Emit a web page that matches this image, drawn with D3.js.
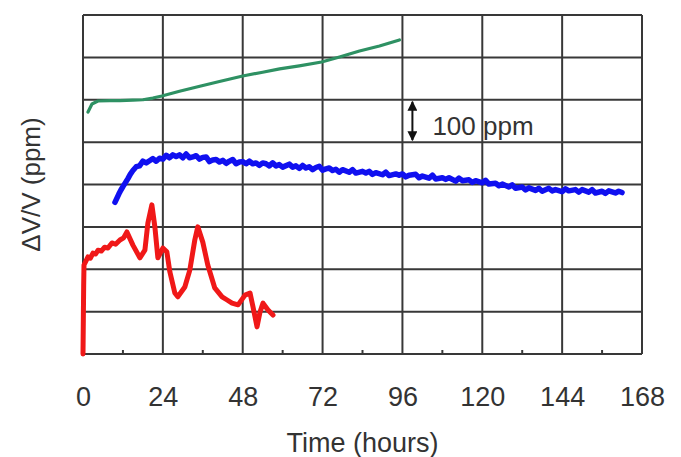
<!DOCTYPE html>
<html>
<head>
<meta charset="utf-8">
<script src="https://cdn.jsdelivr.net/npm/d3@7"></script>
<style>
  html, body { margin: 0; padding: 0; background: #fff; }
  svg { display: block; }
  text { font-family: "Liberation Sans", Arial, sans-serif; fill: #333; }
</style>
</head>
<body>
<svg id="chart" width="681" height="457"></svg>
<script>
// Axis ticks (hours) and grid levels (ppm)
const hourTicks = [0, 24, 48, 72, 96, 120, 144, 168];
const minorHourTicks = [12, 36, 60, 84, 108, 132, 156];
const ppmGrid = [0, 100, 200, 300, 400, 500, 600, 700, 800];

// Scale bar: 100 ppm drawn at t = 99 h
const scaleBar = { t: 99, low: 500, high: 600, label: "100 ppm" };

// Green run: [hours, ppm]
const greenRun = [
  [1.5, 571], [2.7, 590], [4.5, 597], [8, 598], [11.1, 598], [15, 599],
  [18, 600], [21, 604], [23.7, 609], [29, 620], [35.1, 632], [41, 643],
  [48, 656], [54, 665], [59.1, 673], [65, 680], [71.7, 689], [77.1, 701],
  [83.1, 715], [89.1, 727], [95.1, 741]
];

// Blue run: [hours, ppm]
const blueRun = [
  [9.6, 358], [10.2, 368], [10.8, 378], [11.4, 387], [12.0, 395], [12.8, 405],
  [13.5, 414], [14.2, 424], [15.0, 433], [16, 442], [17, 444], [18, 455],
  [19, 451], [20, 456], [21, 461], [22, 455], [23, 462], [24, 460], [25, 469],
  [26, 463], [27, 470], [28, 466], [29, 470], [30, 463], [31, 472], [32, 463],
  [33, 465], [34, 468], [35, 460], [36, 464], [37, 465], [38, 454], [39, 458],
  [40, 459], [41, 453], [42, 457], [43, 450], [44, 455], [45, 459], [46, 449],
  [47, 453], [48, 454], [49, 449], [50, 455], [51, 449], [52, 451], [53, 445],
  [54, 451], [55, 449], [56, 444], [57, 451], [58, 444], [59, 447], [60, 441],
  [62, 448], [63, 441], [64, 444], [65, 438], [66, 445], [67, 439], [68, 442],
  [69, 435], [70, 440], [71, 443], [72, 434], [73, 437], [74, 439], [75, 433],
  [76, 436], [77, 429], [78, 435], [80, 429], [81, 435], [82, 427], [84, 431],
  [85, 427], [86, 431], [87, 424], [88, 428], [90, 423], [91, 429], [92, 421],
  [94, 425], [95, 422], [96, 425], [97, 418], [98, 422], [100, 424], [101, 416],
  [102, 420], [104, 415], [105, 422], [106, 413], [108, 416], [109, 412],
  [110, 416], [112, 408], [113, 415], [114, 409], [116, 411], [117, 405],
  [118, 409], [120, 404], [121, 410], [122, 401], [124, 403], [125, 397],
  [126, 401], [128, 394], [129, 399], [130, 391], [132, 394], [133, 387],
  [134, 392], [136, 386], [137, 391], [138, 384], [140, 391], [141, 385],
  [142, 388], [144, 383], [145, 390], [146, 385], [148, 388], [149, 382],
  [150, 388], [152, 382], [153, 388], [154, 380], [156, 384], [157, 379],
  [158, 385], [160, 380], [161, 384], [162, 381]
];

// Red run: [hours, ppm]
const redRun = [
  [0, 0], [0.1, 80], [0.2, 160], [0.3, 210], [1.5, 229], [2.2, 226], [3, 238],
  [3.8, 236], [4.5, 245], [5.5, 243], [6.5, 252], [7.5, 250], [8.7, 262],
  [9.8, 259], [11.1, 269], [12.2, 274], [13.2, 288], [15.0, 257], [17.1, 227],
  [18.6, 245], [19.5, 309], [20.7, 352], [21.6, 300], [22.5, 227], [24.0, 250],
  [25.2, 241], [26.1, 194], [27.6, 144], [28.5, 135], [30.6, 158], [32.1, 198],
  [33.6, 269], [34.5, 300], [36.0, 264], [37.5, 210], [39.6, 156], [41.8, 135],
  [43.2, 128], [44.8, 120], [46.6, 116], [48.7, 139], [50.2, 144], [51.1, 111],
  [52.3, 64], [53.2, 99], [54.1, 120], [55.6, 104], [57.1, 92]
];

const svg = d3.select("#chart");
const plot = { left: 83, right: 642, top: 15, bottom: 354 };

const x = d3.scaleLinear().domain([0, 168]).range([plot.left, plot.right]);
const y = d3.scaleLinear().domain([0, 800]).range([plot.bottom, plot.top]);

const gridColor = "#383838";

// Grid
const grid = svg.append("g").attr("stroke", gridColor).attr("stroke-width", 2).attr("fill", "none");
grid.selectAll(".v").data(hourTicks).join("line")
  .attr("x1", d => x(d)).attr("x2", d => x(d))
  .attr("y1", plot.top).attr("y2", plot.bottom);
grid.selectAll(".h").data(ppmGrid).join("line")
  .attr("x1", plot.left).attr("x2", plot.right)
  .attr("y1", d => y(d)).attr("y2", d => y(d));

// Small ticks along the bottom edge
grid.selectAll(".m").data(minorHourTicks).join("line")
  .attr("x1", d => x(d)).attr("x2", d => x(d))
  .attr("y1", plot.bottom).attr("y2", plot.bottom - 4);

// Bottom axis labels
const xAxis = d3.axisBottom(x).tickValues(hourTicks).tickSize(0).tickPadding(33);
const gx = svg.append("g").attr("transform", `translate(0,${plot.bottom})`).call(xAxis);
gx.select(".domain").remove();
gx.selectAll("text")
  .attr("font-size", 27)
  .attr("font-family", "Liberation Sans, Arial, sans-serif")
  .attr("fill", "#333");

// Axis titles
svg.append("text")
  .attr("x", (plot.left + plot.right) / 2)
  .attr("y", 452)
  .attr("text-anchor", "middle")
  .attr("font-size", 27)
  .text("Time (hours)");

svg.append("text")
  .attr("transform", `translate(40,${(plot.top + plot.bottom) / 2}) rotate(-90)`)
  .attr("text-anchor", "middle")
  .attr("font-size", 26)
  .text("ΔV/V (ppm)");

// Data lines
const line = d3.line().x(d => x(d[0])).y(d => y(d[1]));

svg.append("path").datum(greenRun)
  .attr("fill", "none").attr("stroke", "#2e9163").attr("stroke-width", 3.2)
  .attr("stroke-linejoin", "round").attr("stroke-linecap", "round")
  .attr("d", line);

svg.append("path").datum(blueRun)
  .attr("fill", "none").attr("stroke", "#1010f0").attr("stroke-width", 5.5)
  .attr("stroke-linejoin", "round").attr("stroke-linecap", "round")
  .attr("d", line);

svg.append("path").datum(redRun)
  .attr("fill", "none").attr("stroke", "#f01818").attr("stroke-width", 5)
  .attr("stroke-linejoin", "round").attr("stroke-linecap", "round")
  .attr("d", line);

// 100 ppm scale bar
const defs = svg.append("defs");
defs.append("marker")
  .attr("id", "head").attr("viewBox", "0 0 10 10")
  .attr("refX", 9).attr("refY", 5)
  .attr("markerWidth", 5.5).attr("markerHeight", 5)
  .attr("orient", "auto-start-reverse")
  .append("path").attr("d", "M0,0 L10,5 L0,10 Z").attr("fill", "#111");

svg.append("line")
  .attr("x1", x(scaleBar.t)).attr("x2", x(scaleBar.t))
  .attr("y1", y(scaleBar.high) + 2).attr("y2", y(scaleBar.low) - 2)
  .attr("stroke", "#111").attr("stroke-width", 2)
  .attr("marker-start", "url(#head)").attr("marker-end", "url(#head)");

svg.append("text")
  .attr("x", x(scaleBar.t) + 20)
  .attr("y", y((scaleBar.low + scaleBar.high) / 2) + 14)
  .attr("font-size", 26)
  .text(scaleBar.label);
</script>
</body>
</html>
